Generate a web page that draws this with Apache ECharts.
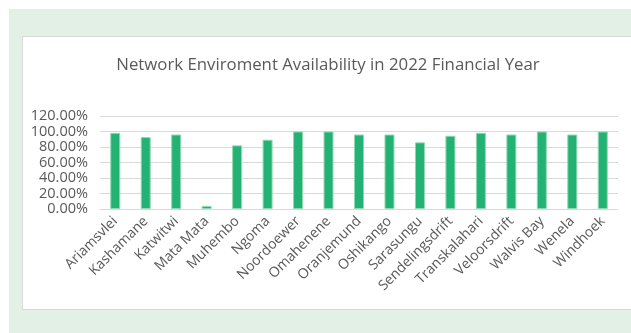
<!DOCTYPE html>
<html>
<head>
<meta charset="utf-8">
<script src="https://cdn.jsdelivr.net/npm/echarts@6/dist/echarts.min.js"></script>
<style>
  html, body { margin: 0; padding: 0; background: #ffffff; }
  #frame { position: absolute; left: 9px; top: 9px; width: 622px; height: 324px; background: #e2f0e6; }
  #panel { position: absolute; left: 22px; top: 36px; width: 615px; height: 274px; background: #ffffff;
           border: 1px solid #d9d9d9; box-sizing: border-box; }
  #chart { position: absolute; left: 0; top: 0; width: 631px; height: 333px; }
</style>
</head>
<body>
<div id="frame"></div>
<div id="panel"></div>
<div id="chart"></div>
<script>
// Availability per site, percent
const sites = ['Ariamsvlei', 'Kashamane', 'Katwitwi', 'Mata Mata', 'Muhembo', 'Ngoma',
  'Noordoewer', 'Omahenene', 'Oranjemund', 'Oshikango', 'Sarasungu', 'Sendelingsdrift',
  'Transkalahari', 'Veloorsdrift', 'Walvis Bay', 'Wenela', 'Windhoek'];
const availability = [98.3, 92.8, 96.1, 4.0, 82.1, 89.4,
  100, 100, 96.1, 96.1, 86.0, 94.5,
  98.3, 96.1, 100, 96.1, 100];
const yTicks = [0, 20, 40, 60, 80, 100, 120];

const chart = echarts.init(document.getElementById('chart'), null, { renderer: 'canvas' });
const textColor = '#595959';
const fontFamily = '"Open Sans", "Liberation Sans", sans-serif';

chart.setOption({
  backgroundColor: 'transparent',
  animation: false,
  title: {
    text: 'Network Enviroment Availability in 2022 Financial Year',
    left: 323,
    textAlign: 'center',
    top: 52,
    textStyle: { color: textColor, fontSize: 16.8, fontWeight: 'normal', fontFamily: fontFamily }
  },
  grid: { left: 100, right: 13, top: 116, bottom: 124 },
  xAxis: {
    type: 'category',
    data: sites,
    axisLine: { lineStyle: { color: '#d9d9d9', width: 1 } },
    axisTick: { show: false },
    axisLabel: {
      rotate: 45, interval: 0, margin: 10,
      color: textColor, fontSize: 14, fontFamily: fontFamily
    }
  },
  yAxis: {
    type: 'value',
    min: yTicks[0],
    max: yTicks[yTicks.length - 1],
    interval: 20,
    axisLine: { show: false },
    axisTick: { show: false },
    splitLine: { lineStyle: { color: '#d9d9d9', width: 1 } },
    axisLabel: {
      margin: 12, color: textColor, fontSize: 14.5, fontFamily: fontFamily,
      formatter: v => v.toFixed(2) + '%'
    }
  },
  series: [{
    type: 'bar',
    data: availability,
    barWidth: 10,
    itemStyle: { color: '#23b273', borderColor: '#8fd9b2', borderWidth: 1 }
  }]
});
</script>
</body>
</html>
